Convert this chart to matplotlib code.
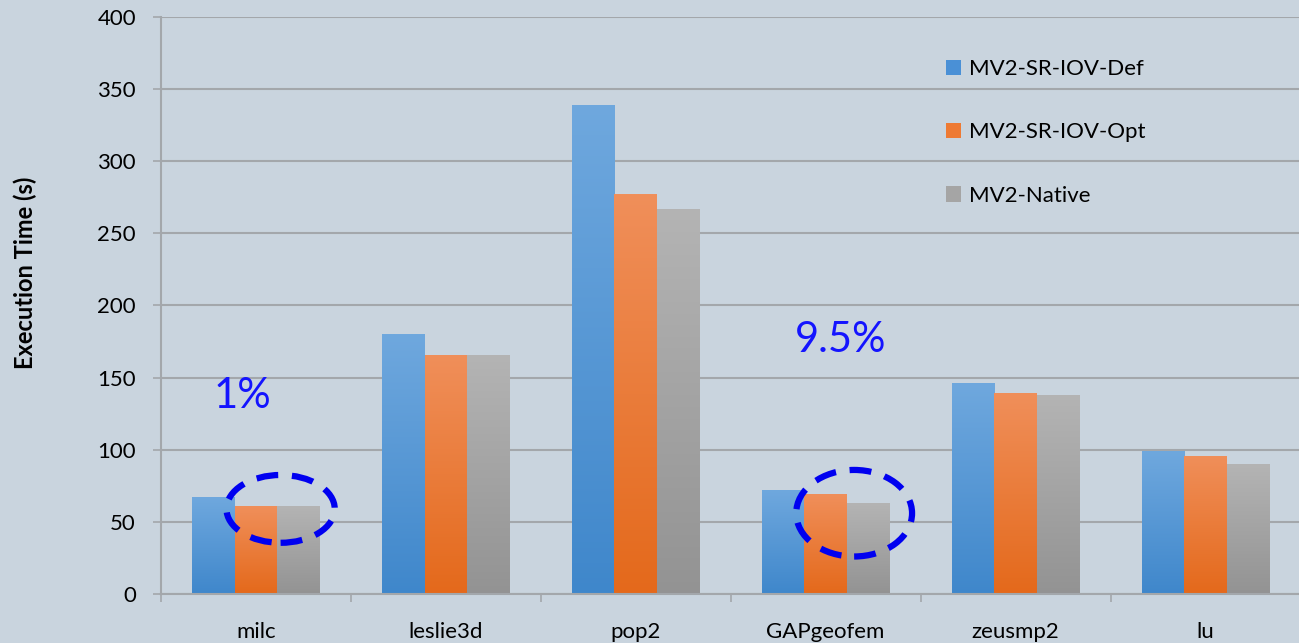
import matplotlib.pyplot as plt
import numpy as np
from matplotlib.colors import LinearSegmentedColormap
from matplotlib.patches import Ellipse, Patch

plt.rcParams["font.family"] = ["Lato", "DejaVu Sans"]

# Benchmark execution times (seconds)
benchmarks = ["milc", "leslie3d", "pop2", "GAPgeofem", "zeusmp2", "lu"]
sriov_def = [67, 180, 339, 72, 146, 99]
sriov_opt = [61, 166, 277, 69, 139, 96]
native = [61, 166, 267, 63, 138, 90]
series_names = ["MV2-SR-IOV-Def", "MV2-SR-IOV-Opt", "MV2-Native"]
y_ticks = [0, 50, 100, 150, 200, 250, 300, 350, 400]

# (top, bottom) gradient colours per series
gradients = [
    ("#6fa8de", "#3f87cb"),
    ("#f08f5a", "#e4691b"),
    ("#b4b4b4", "#939393"),
]
legend_colors = ["#4a90d6", "#ee7a33", "#a5a5a5"]
bg_color = "#c9d4de"
grid_color = "#a3a7ab"

fig = plt.figure(figsize=(12.99, 6.43), dpi=100, facecolor=bg_color)
ax = fig.add_axes([0.1239, 0.0762, 0.8772, 0.8974])
ax.set_facecolor("none")

x = np.arange(len(benchmarks))
width = 0.224


def gradient_bars(ax, xs, heights, top, bottom):
    bars = ax.bar(xs, heights, width, color=bottom, zorder=2, linewidth=0)
    cmap = LinearSegmentedColormap.from_list("g", [bottom, top])
    grad = np.linspace(0, 1, 256).reshape(-1, 1)
    for b in bars:
        x0, y0 = b.get_x(), b.get_y()
        im = ax.imshow(grad, cmap=cmap, origin="lower", aspect="auto",
                       extent=(x0, x0 + b.get_width(), y0, y0 + b.get_height()),
                       zorder=2.1)
        im.set_clip_path(b)
    return bars


for i, vals in enumerate([sriov_def, sriov_opt, native]):
    top, bottom = gradients[i]
    gradient_bars(ax, x + (i - 1) * width, vals, top, bottom)

ax.set_xlim(-0.5, len(benchmarks) - 0.5)
ax.set_ylim(0, 400)

ax.set_yticks(y_ticks)
ax.yaxis.grid(True, color=grid_color, linewidth=1.5, zorder=0)
ax.set_axisbelow(True)
ax.tick_params(axis="y", length=6, width=1.2, color=grid_color, pad=12,
               labelsize=16)

ax.set_xticks(x)
ax.set_xticklabels(benchmarks)
ax.set_xticks(np.arange(-0.5, len(benchmarks)), minor=True)
ax.tick_params(axis="x", which="major", length=0, pad=20, labelsize=16)
ax.tick_params(axis="x", which="minor", length=6, width=1.2, color=grid_color)

for side in ["top", "right"]:
    ax.spines[side].set_visible(False)
ax.spines["left"].set_color(grid_color)
ax.spines["left"].set_linewidth(1.5)
ax.spines["bottom"].set_color(grid_color)
ax.spines["bottom"].set_linewidth(1.5)

ax.set_ylabel("Execution Time (s)", fontsize=17, fontweight="bold")
ax.yaxis.set_label_coords(-0.109, 0.556)

# Overhead callouts
ax.text(-0.07, 137, "1%", color="#1414ff", fontsize=30,
        ha="center", va="center", zorder=4)
ax.text(3.08, 176, "9.5%", color="#1414ff", fontsize=30,
        ha="center", va="center", zorder=4)
for cx, cy, w, h in [(0.13, 59, 0.57, 47), (3.15, 56, 0.61, 60)]:
    ax.add_patch(Ellipse((cx, cy), w, h, fill=False, edgecolor="#0000f0",
                         linewidth=4.5, linestyle=(0, (3.5, 2.2)), zorder=5))

handles = [Patch(facecolor=c, edgecolor="none") for c in legend_colors]
ax.legend(handles, series_names, loc="upper left",
          bbox_to_anchor=(935 / 1299, (643 - 48) / 643),
          bbox_transform=fig.transFigure, frameon=False, fontsize=16,
          handlelength=0.68, handleheight=0.68, handletextpad=0.35,
          labelspacing=1.95, borderpad=0)

fig.savefig("out.png", dpi=100, facecolor=bg_color)
